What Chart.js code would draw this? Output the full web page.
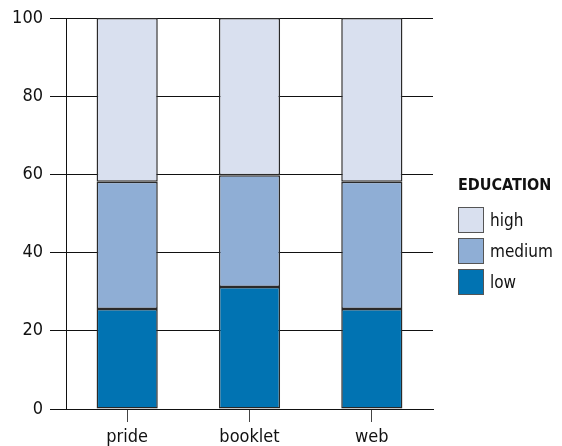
<!DOCTYPE html>
<html>
<head>
<meta charset="utf-8">
<script src="https://cdn.jsdelivr.net/npm/chart.js@4/dist/chart.umd.min.js"></script>
<style>
  body { margin: 0; background: #fff; }
  #wrap { position: relative; width: 562px; height: 446px; }
  #legend {
    position: absolute; left: 458px; top: 175px;
    font-family: 'DejaVu Sans Condensed', 'Liberation Sans Narrow', sans-serif;
    font-stretch: condensed;
    color: #111;
  }
  #legend .title { font-weight: bold; font-size: 16px; margin-bottom: 10px; }
  #legend .item { display: flex; align-items: center; height: 31px; font-size: 17px; }
  #legend .box { width: 24px; height: 24px; border: 1.5px solid #555; margin-right: 6px; }
</style>
</head>
<body>
<div id="wrap">
  <canvas id="chart" width="562" height="446"></canvas>
  <div id="legend"></div>
</div>
<script>
const categories = ['pride', 'booklet', 'web'];
const lowValues = [25.6, 31.2, 25.6];
const mediumValues = [32.5, 28.6, 32.5];
const highValues = [41.9, 40.2, 41.9];
const seriesNames = ['low', 'medium', 'high'];
const colors = ['#0173b2', '#8faed5', '#d9e0ef'];
const legendTitle = 'EDUCATION';

const font = "'DejaVu Sans Condensed', 'Liberation Sans Narrow', sans-serif";

const datasets = [lowValues, mediumValues, highValues].map((vals, i) => ({
  label: seriesNames[i],
  data: vals,
  backgroundColor: colors[i],
  borderColor: '#2a2a2a',
  borderWidth: 1.5,
  borderSkipped: false,
  barPercentage: 1,
  categoryPercentage: 0.5
}));

const ctx = document.getElementById('chart').getContext('2d');
const chart = new Chart(ctx, {
  type: 'bar',
  data: { labels: categories, datasets: datasets },
  options: {
    responsive: false,
    animation: false,
    devicePixelRatio: 1,
    layout: { padding: { top: 18, right: 129, left: 0, bottom: 0 } },
    plugins: { legend: { display: false }, tooltip: { enabled: false } },
    scales: {
      x: {
        stacked: true,
        afterFit: s => { s.height = 37; },
        grid: { offset: false, drawOnChartArea: false, drawTicks: true, tickLength: 13, color: '#444' },
        border: { display: true, color: '#111', width: 1 },
        ticks: { color: '#111', font: { family: font, size: 18 }, padding: 5 }
      },
      y: {
        stacked: true,
        min: 0,
        max: 100,
        afterFit: s => { s.width = 66; },
        grid: { color: '#111', lineWidth: 1, tickLength: 16 },
        border: { display: true, color: '#111', width: 1 },
        ticks: { stepSize: 20, color: '#111', font: { family: font, size: 18 }, padding: 7 }
      }
    }
  }
});

// legend, top to bottom: high, medium, low
const legend = document.getElementById('legend');
let html = '<div class="title">' + legendTitle + '</div>';
for (let i = seriesNames.length - 1; i >= 0; i--) {
  html += '<div class="item"><div class="box" style="background:' + colors[i] + '"></div>' + seriesNames[i] + '</div>';
}
legend.innerHTML = html;
</script>
</body>
</html>
